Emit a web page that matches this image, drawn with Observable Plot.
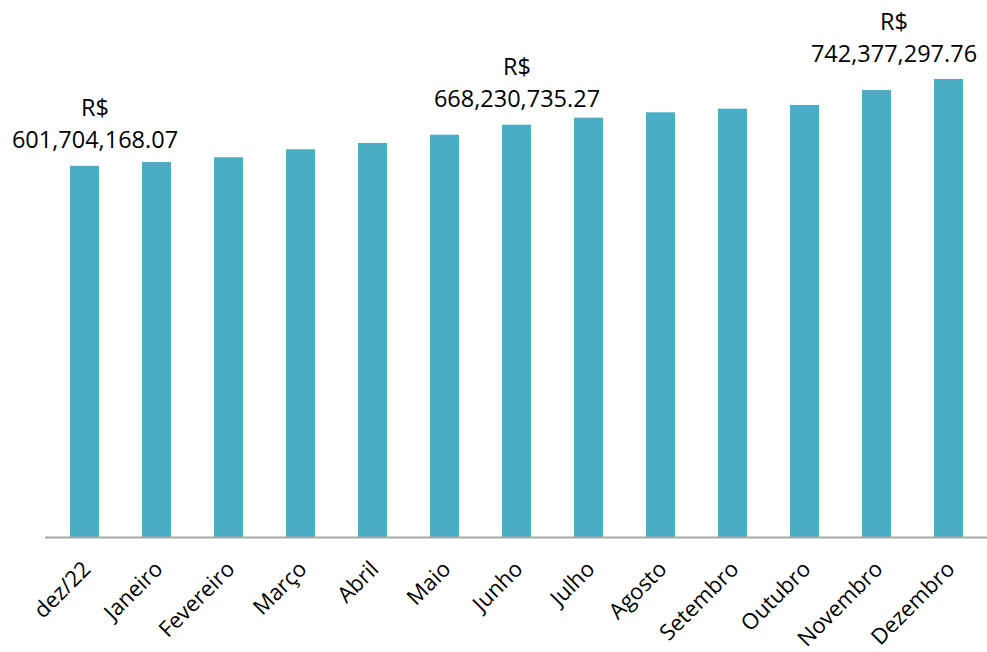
<!DOCTYPE html>
<html>
<head>
<meta charset="utf-8">
<script src="https://cdn.jsdelivr.net/npm/d3@7"></script>
<script src="https://cdn.jsdelivr.net/npm/@observablehq/plot@0.6"></script>
<style>
  html, body { margin: 0; padding: 0; background: #fff; }
</style>
</head>
<body>
<div id="chart"></div>
<script>
const months = ["dez/22", "Janeiro", "Fevereiro", "Março", "Abril", "Maio", "Junho", "Julho", "Agosto", "Setembro", "Outubro", "Novembro", "Dezembro"];
const values = [601704168.07, 607900000, 615500000, 628500000, 638700000, 652100000, 668230735.27, 679700000, 688400000, 694300000, 700300000, 724600000, 742377297.76];
const labeled = ["dez/22", "Junho", "Dezembro"];
const labelShift = [10, 0, -55];

const data = months.map((m, i) => ({month: m, value: values[i]}));
const fmt = v => "R$\n" + v.toLocaleString("en-US", {minimumFractionDigits: 2, maximumFractionDigits: 2});

const labelMarks = labeled.map((m, k) =>
  Plot.text(data.filter(d => d.month === m), {
    x: "month", y: "value", text: d => fmt(d.value),
    lineAnchor: "bottom", dy: -18, dx: labelShift[k],
    lineHeight: 1.36, fontSize: 23.5, fill: "#000"
  })
);

const chart = Plot.plot({
  width: 987,
  height: 652,
  marginLeft: 45,
  marginRight: 0,
  marginTop: 79,
  marginBottom: 115,
  style: {fontFamily: "'Open Sans', sans-serif", background: "#fff"},
  x: {domain: months, paddingInner: 0.6, paddingOuter: 0.3, axis: null},
  y: {domain: [0, 742377297.76], nice: false, axis: null},
  marks: [
    Plot.barY(data, {x: "month", y: "value", fill: "#4BACC6"}),
    Plot.ruleY([0], {stroke: "#a6a6a6", strokeWidth: 2}),
    ...labelMarks,
    Plot.text(data, {
      x: "month", frameAnchor: "bottom", text: "month",
      rotate: -45, textAnchor: "end", lineAnchor: "bottom",
      dx: 7, dy: 33, fontSize: 22, fill: "#000"
    })
  ]
});
document.getElementById("chart").appendChild(chart);
</script>
</body>
</html>
